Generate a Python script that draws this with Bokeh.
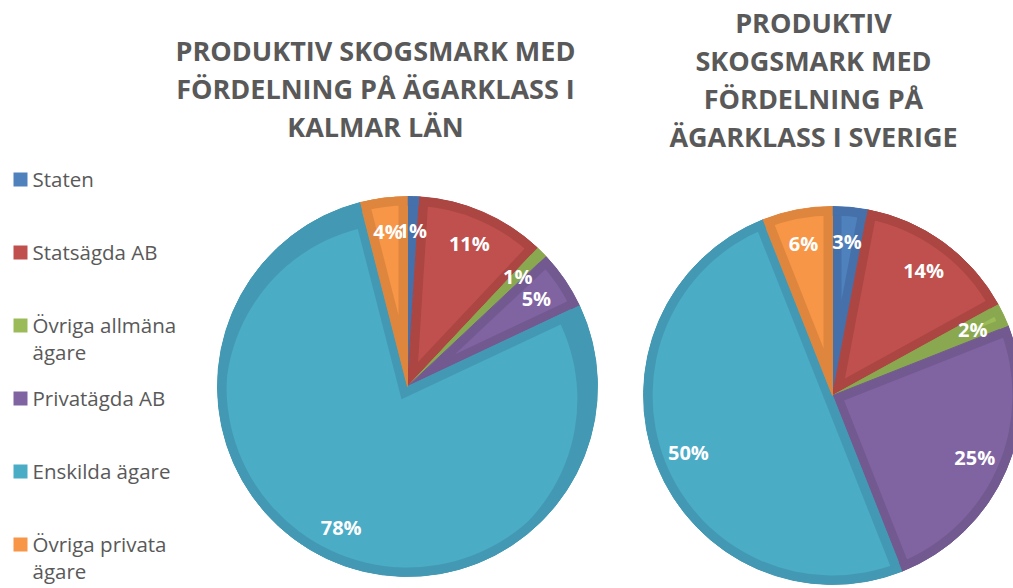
import math
import textwrap
import numpy as np
from bokeh.plotting import figure
from bokeh.models import Range1d, ColumnDataSource
from bokeh.core.properties import value
from bokeh.embed import file_html
from bokeh.resources import INLINE

# ---------------- data ----------------
categories = ["Staten", "Statsägda AB", "Övriga allmäna ägare",
              "Privatägda AB", "Enskilda ägare", "Övriga privata ägare"]
kalmar = [1, 11, 1, 5, 78, 4]
sverige = [3, 14, 2, 25, 50, 6]
title_kalmar = "PRODUKTIV SKOGSMARK MED\nFÖRDELNING PÅ ÄGARKLASS I\nKALMAR LÄN"
title_sverige = "PRODUKTIV\nSKOGSMARK MED\nFÖRDELNING PÅ\nÄGARKLASS I SVERIGE"

# ---------------- styles ----------------
fill_colors = ["#4F81BD", "#C0504D", "#9BBB59", "#8064A2", "#4BACC6", "#F79646"]
edge_colors = ["#4570AA", "#AC4643", "#8AA84F", "#725A91", "#4399B3", "#DE863E"]
TEXT_GREY = "#595959"
FONT = "Open Sans"

W, H = 1013, 588

p = figure(width=W, height=H, output_backend="svg", toolbar_location=None,
           x_range=Range1d(0, W), y_range=Range1d(-H, 0), min_border=0)
p.axis.visible = False
p.grid.visible = False
p.outline_line_color = None
p.background_fill_color = "white"
p.border_fill_color = "white"


def draw_pie(values, cx, cy, R, w=9.0, label_frac=0.82):
    vals = np.array(values, dtype=float)
    fr = vals / vals.sum()
    cum = np.concatenate([[0.0], np.cumsum(fr)])
    a, b = cum[:-1], cum[1:]
    start = math.pi / 2 - 2 * math.pi * b
    end = math.pi / 2 - 2 * math.pi * a
    mid = (start + end) / 2
    half = math.pi * (b - a)
    y0 = -cy

    # full slice in border (darker) colour
    src = ColumnDataSource(dict(start=start, end=end, fc=edge_colors))
    p.wedge(x=cx, y=y0, radius=R, start_angle="start", end_angle="end",
            fill_color="fc", line_color="fc", line_width=1, source=src)

    # lighter inset face
    d = w / np.sin(half)
    keep = (R - d) > w
    src2 = ColumnDataSource(dict(
        x=(cx + d * np.cos(mid))[keep], y=(y0 + d * np.sin(mid))[keep],
        r=(R - d)[keep], start=start[keep], end=end[keep],
        fc=[c for c, k in zip(fill_colors, keep) if k]))
    p.wedge(x="x", y="y", radius="r", start_angle="start", end_angle="end",
            fill_color="fc", line_color=None, source=src2)

    # rim border
    src3 = ColumnDataSource(dict(start=start, end=end, fc=edge_colors))
    p.annular_wedge(x=cx, y=y0, inner_radius=R - w, outer_radius=R,
                    start_angle="start", end_angle="end",
                    fill_color="fc", line_color=None, source=src3)

    # labels
    rl = R * label_frac
    src4 = ColumnDataSource(dict(x=cx + rl * np.cos(mid), y=y0 + rl * np.sin(mid),
                                 t=[f"{int(v)}%" for v in values]))
    p.text(x="x", y="y", text="t", source=src4, text_color="white",
           text_font=value(FONT), text_font_style="bold", text_font_size="20px",
           text_align="center", text_baseline="middle")


draw_pie(kalmar, 407, 386, 190)
draw_pie(sverige, 832, 395, 189)

# titles
p.text(x=[375], y=[-31], text=[title_kalmar], text_color=TEXT_GREY,
       text_font=value(FONT), text_font_style="bold", text_font_size="27px",
       text_align="center", text_baseline="top", text_line_height=1.03)
p.text(x=[813], y=[-3], text=[title_sverige], text_color=TEXT_GREY,
       text_font=value(FONT), text_font_style="bold", text_font_size="27px",
       text_align="center", text_baseline="top", text_line_height=1.03)

# legend
leg_y = [179 + i * 73.0 for i in range(len(categories))]
p.scatter(x=[20] * len(categories), y=[-v for v in leg_y], marker="square",
          size=14, fill_color=fill_colors, line_color=None)
p.text(x=[32] * len(categories), y=[-(v - 15) for v in leg_y],
       text=[textwrap.fill(c, 15) for c in categories], text_color=TEXT_GREY,
       text_font=value(FONT), text_font_size="20.5px", text_align="left",
       text_baseline="top", text_line_height=0.98)

open("out.html", "w").write(file_html(p, INLINE))
